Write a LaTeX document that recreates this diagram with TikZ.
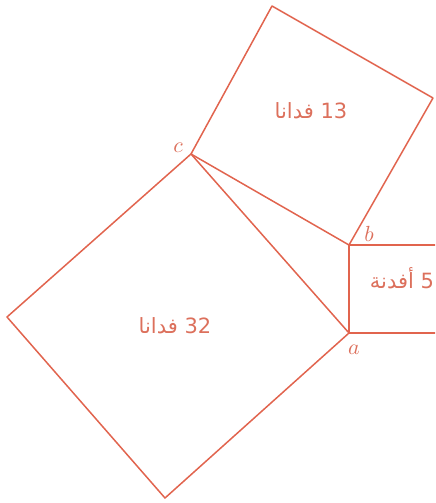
\documentclass[tikz,border=0pt]{standalone}
\usepackage{fontspec}
\usepackage{xcolor}
\usetikzlibrary{positioning}
\newfontfamily\arabicfont[Script=Arabic]{DejaVu Sans}
\TeXXeTstate=1
\definecolor{edgered}{RGB}{225,100,78}
\definecolor{textred}{RGB}{220,112,92}

\begin{document}
\begin{tikzpicture}[x=0.5pt, y=-0.5pt]
    % Styles
    \tikzstyle{side} = [draw=edgered, line width=0.75pt, line join=round]
    \tikzstyle{corner} = [text=textred, font=\fontsize{10.5}{12}\selectfont, inner sep=0pt]
    \tikzstyle{area} = [text=textred, font=\arabicfont\fontsize{10.5}{12}\selectfont, inner sep=0pt]

    % Page frame
    \useasboundingbox (0,0) rectangle (435,503);
    \clip (0,0) rectangle (435,503);

    % Triangle vertices
    \coordinate (c) at (191,154);
    \coordinate (b) at (349,245);
    \coordinate (a) at (349,333);

    % Outer square corners
    \coordinate (ctop) at (272,6);
    \coordinate (cright) at (433,98);
    \coordinate (sleft) at (7,317);
    \coordinate (sbottom) at (165,498);
    \coordinate (rtop) at (440,245);
    \coordinate (rbottom) at (440,333);

    % Squares on the three sides
    \draw[side] (c) -- (ctop) -- (cright) -- (b) -- cycle;
    \draw[side] (c) -- (a) -- (sbottom) -- (sleft) -- cycle;
    \draw[side] (b) -- (rtop) -- (rbottom) -- (a) -- cycle;

    % Vertex labels
    \node[corner] (clab) at (178,148) {$c$};
    \node[corner] (blab) at (369,234) {$b$};
    \node[corner] (alab) at (354,350) {$a$};

    % Areas
    \node[area] (upper) at (311,111) {\beginR\beginL13\endL{} فدانا\endR};
    \node[area] (lower) at (175,326) {\beginR\beginL32\endL{} فدانا\endR};
    \node[area] (small) at (402,278) {\beginR\beginL5\endL{} أفدنة\endR};
\end{tikzpicture}
\end{document}
